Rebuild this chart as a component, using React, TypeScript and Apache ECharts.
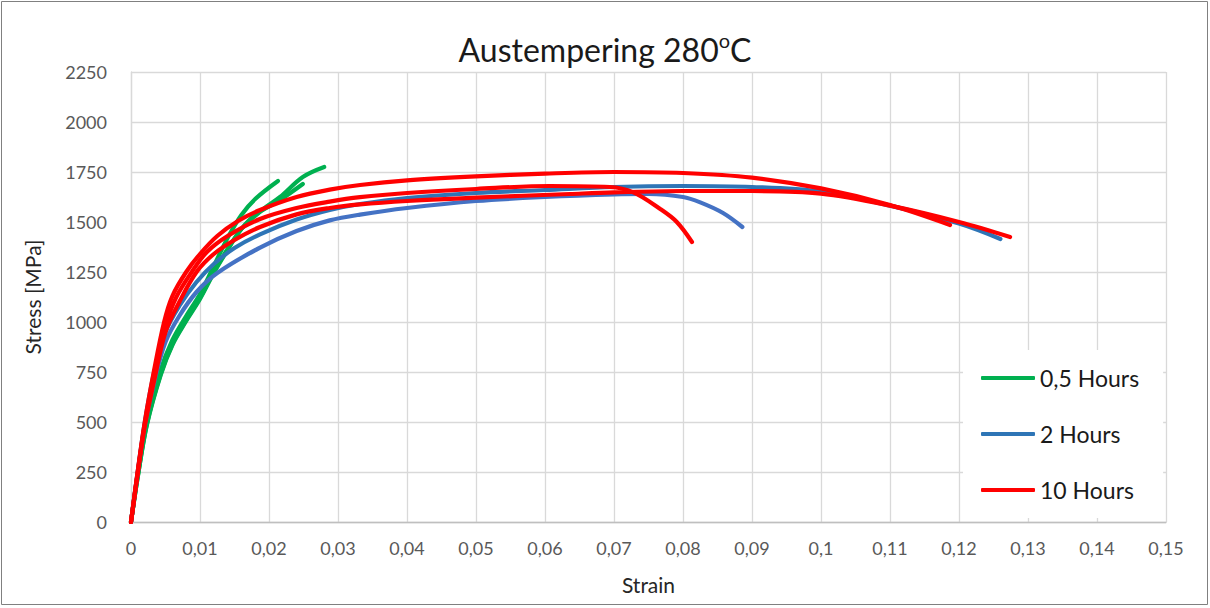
import React, { useEffect, useRef } from "react";
import * as echarts from "echarts";

const xTicks = { min: 0, max: 0.15, step: 0.01 };
const yTicks = { min: 0, max: 2250, step: 250 };
const legendNames = ["0,5 Hours", "2 Hours", "10 Hours"];

// 0,5 Hours (green)
const g1: [number, number][] = [
  [0, 0], [0.001, 240], [0.0023, 500], [0.0042, 750], [0.006, 910], [0.008, 1030],
  [0.01, 1140], [0.012, 1280], [0.014, 1420], [0.016, 1535], [0.018, 1615], [0.0213, 1705],
];
const g2: [number, number][] = [
  [0, 0], [0.001, 230], [0.0023, 490], [0.0043, 740], [0.006, 890], [0.008, 1010],
  [0.01, 1120], [0.012, 1250], [0.014, 1365], [0.016, 1465], [0.018, 1535], [0.0216, 1610], [0.0249, 1690],
];
const g3: [number, number][] = [
  [0, 0], [0.001, 230], [0.0023, 485], [0.0043, 735], [0.006, 885], [0.008, 1005],
  [0.01, 1115], [0.012, 1245], [0.014, 1360], [0.016, 1465], [0.019, 1560], [0.0216, 1625], [0.0249, 1725], [0.028, 1775],
];

// 2 Hours (blue)
const b1: [number, number][] = [
  [0, 0], [0.001, 250], [0.002, 480], [0.0035, 720], [0.005, 900], [0.007, 1030],
  [0.0095, 1150], [0.0125, 1245], [0.0187, 1372], [0.024, 1455], [0.0288, 1508], [0.0332, 1537],
  [0.04, 1570], [0.05, 1605], [0.06, 1625], [0.07, 1638], [0.075, 1640], [0.08, 1625],
  [0.0825, 1598], [0.0858, 1545], [0.0886, 1475],
];
const b2: [number, number][] = [
  [0, 0], [0.001, 260], [0.002, 500], [0.0033, 740], [0.005, 950], [0.007, 1080],
  [0.0095, 1200], [0.012, 1290], [0.015, 1370], [0.0187, 1438], [0.024, 1512], [0.0288, 1560],
  [0.0332, 1590], [0.04, 1620], [0.05, 1645], [0.06, 1660], [0.07, 1675], [0.08, 1680],
  [0.09, 1675], [0.1, 1652], [0.11, 1582], [0.12, 1492], [0.126, 1415],
];

// 10 Hours (red)
const r1: [number, number][] = [
  [0, 0], [0.001, 260], [0.002, 500], [0.0033, 750], [0.0048, 1000], [0.006, 1130],
  [0.008, 1250], [0.01, 1340], [0.0125, 1430], [0.0155, 1505], [0.0187, 1560], [0.024, 1625],
  [0.0288, 1662], [0.0332, 1685], [0.04, 1708], [0.05, 1728], [0.06, 1742], [0.07, 1750],
  [0.08, 1745], [0.09, 1722], [0.1, 1668], [0.11, 1585], [0.1187, 1485],
];
const r2: [number, number][] = [
  [0, 0], [0.001, 255], [0.002, 490], [0.0034, 740], [0.005, 980], [0.0065, 1120],
  [0.0088, 1250], [0.011, 1350], [0.014, 1430], [0.0187, 1515], [0.024, 1570], [0.0288, 1602],
  [0.0332, 1624], [0.04, 1645], [0.05, 1665], [0.0607, 1680], [0.0694, 1675], [0.0728, 1648],
  [0.0767, 1565], [0.0791, 1500], [0.0813, 1400],
];
const r3: [number, number][] = [
  [0, 0], [0.001, 250], [0.002, 480], [0.0035, 730], [0.005, 950], [0.007, 1100],
  [0.0095, 1250], [0.012, 1340], [0.015, 1410], [0.0187, 1475], [0.024, 1538], [0.0288, 1570],
  [0.0332, 1588], [0.04, 1605], [0.05, 1622], [0.0636, 1640], [0.07, 1648], [0.08, 1655],
  [0.09, 1655], [0.1, 1642], [0.11, 1582], [0.12, 1500], [0.1274, 1425],
];

const groups = [
  { name: legendNames[0], color: "#00B050", curves: [g1, g2, g3] },
  { name: legendNames[1], color: "#2E75B6", curves: [b2, b1] },
  { name: legendNames[2], color: "#FF0000", curves: [r1, r2, r3] },
];

const FONT = "Lato, 'Open Sans', sans-serif";

export default function App() {
  const ref = useRef<HTMLDivElement>(null);
  useEffect(() => {
    if (!ref.current) return;
    const chart = echarts.init(ref.current, undefined, { renderer: "svg" });
    const series: any[] = [];
    groups.forEach((g) => {
      g.curves.forEach((c, i) => {
        series.push({
          type: "line",
          name: g.name,
          data: c,
          symbol: "none",
          smooth: 0.35,
          lineStyle: { color: i === 1 && g.name === "2 Hours" ? "#4472C4" : g.color, width: 4.2, cap: "round", join: "round" },
          itemStyle: { color: g.color },
          z: 2,
        });
      });
    });
    chart.setOption({
      animation: false,
      backgroundColor: "#ffffff",
      textStyle: { fontFamily: FONT },
      title: {
        text: "{a|Austempering 280}{s|o}{a|C}",
        left: "center",
        top: 22,
        textStyle: {
          fontWeight: "normal",
          rich: {
            a: { fontSize: 32, fontFamily: FONT, fontWeight: "normal", color: "#1a1a1a", verticalAlign: "bottom", lineHeight: 38 },
            s: { fontSize: 20, fontFamily: FONT, fontWeight: "normal", color: "#1a1a1a", verticalAlign: "bottom", padding: [0, 0, 15, 0], lineHeight: 20 },
          },
        },
      },
      graphic: [
        {
          type: "rect",
          shape: { x: 1.5, y: 1.5, width: 1206, height: 603 },
          style: { fill: "none", stroke: "#808080", lineWidth: 1 },
          silent: true,
        },
      ],
      grid: { left: 131, top: 72, width: 1035, height: 450, containLabel: false },
      legend: {
        data: legendNames,
        orient: "vertical",
        left: 963,
        top: 350,
        backgroundColor: "#ffffff",
        padding: [15, 24, 15, 18],
        itemGap: 30,
        itemWidth: 54,
        itemHeight: 4,
        icon: "roundRect",
        itemStyle: { borderWidth: 0 },
        textStyle: { fontSize: 23, fontFamily: FONT, color: "#1a1a1a", lineHeight: 26 },
        z: 10,
      },
      xAxis: {
        type: "value",
        min: xTicks.min,
        max: xTicks.max,
        interval: xTicks.step,
        name: "Strain",
        nameLocation: "middle",
        nameGap: 52,
        nameTextStyle: { fontSize: 21, color: "#262626", fontFamily: FONT },
        axisLine: { show: true, lineStyle: { color: "#BFBFBF", width: 1.3 } },
        axisTick: { show: false },
        axisLabel: {
          fontSize: 18,
          color: "#595959",
          margin: 17,
          fontFamily: FONT,
          formatter: (v: number) => String(Number(v.toFixed(2))).replace(".", ","),
        },
        splitLine: { show: true, lineStyle: { color: "#D9D9D9", width: 1.3 } },
      },
      yAxis: {
        type: "value",
        min: yTicks.min,
        max: yTicks.max,
        interval: yTicks.step,
        name: "Stress [MPa]",
        nameLocation: "middle",
        nameGap: 88,
        nameTextStyle: { fontSize: 21, color: "#262626", fontFamily: FONT },
        axisLine: { show: true, lineStyle: { color: "#D9D9D9", width: 1.3 } },
        axisTick: { show: false },
        axisLabel: {
          fontSize: 18,
          color: "#595959",
          margin: 24,
          fontFamily: FONT,
          formatter: (v: number) => String(Math.round(v)),
        },
        splitLine: { show: true, lineStyle: { color: "#D9D9D9", width: 1.3 } },
      },
      series,
    });
    return () => chart.dispose();
  }, []);
  return (
    <div
      ref={ref}
      style={{ position: "absolute", left: 0, top: 0, width: 1210, height: 608 }}
    />
  );
}
